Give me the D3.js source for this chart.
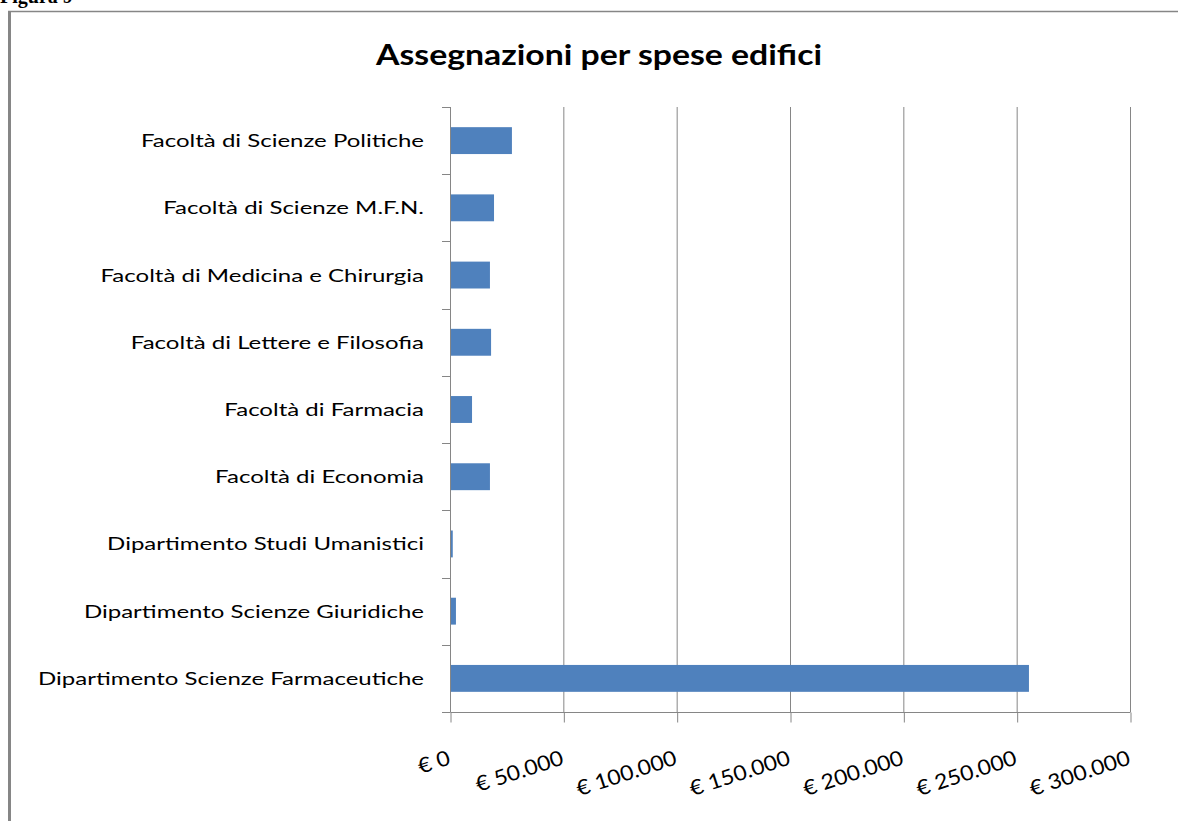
<!DOCTYPE html>
<html>
<head>
<meta charset="utf-8">
<script src="https://cdn.jsdelivr.net/npm/d3@7.9.0/dist/d3.min.js"></script>
<style>
    html, body { margin: 0; padding: 0; background: #fff; overflow: hidden; }
    svg { display: block; }
</style>
</head>
<body>
<svg id="chart" width="1178" height="821"></svg>
<script>
// Data (top to bottom)
const categories = [
    'Facoltà di Scienze Politiche',
    'Facoltà di Scienze M.F.N.',
    'Facoltà di Medicina e Chirurgia',
    'Facoltà di Lettere e Filosofia',
    'Facoltà di Farmacia',
    'Facoltà di Economia',
    'Dipartimento Studi Umanistici',
    'Dipartimento Scienze Giuridiche',
    'Dipartimento Scienze Farmaceutiche'
];
const values = [27100, 19200, 17400, 17900, 9500, 17400, 1000, 2400, 255200];
const tickValues = [0, 50000, 100000, 150000, 200000, 250000, 300000];
const chartTitle = 'Assegnazioni per spese edifici';
const figureLabel = 'Figura 9';

const grey = '#868686';
const barColor = '#4F81BD';

const svg = d3.select('#chart');

// Italian euro formatting: "€ 50.000"
const it = d3.formatLocale({ decimal: ',', thousands: '.', grouping: [3], currency: ['€ ', ''] });
const fmt = it.format('$,');

// Scales
const x = d3.scaleLinear().domain([0, 300000]).range([450.5, 1130.5]);
const y = d3.scaleBand().domain(categories).range([107, 712]).paddingInner(0.6).paddingOuter(0.3);
const step = y.step();

// Outer frame (left + top border of the embedded chart)
svg.append('line').attr('x1', 9.5).attr('x2', 9.5).attr('y1', 11).attr('y2', 821)
    .attr('stroke', grey).attr('stroke-width', 3);
svg.append('line').attr('x1', 8).attr('x2', 1178).attr('y1', 11.5).attr('y2', 11.5)
    .attr('stroke', grey).attr('stroke-width', 1.5);

// Caption above the frame, mostly clipped by the page top
svg.append('text').attr('x', 0).attr('y', 3)
    .attr('font-family', '"Liberation Serif", serif').attr('font-weight', 'bold')
    .attr('font-size', 20).text(figureLabel);

// Helper: squeeze/stretch text horizontally so a reference string hits a target width
function fitTexts(sel, refWidth, refNode) {
    const k = refWidth / refNode.getComputedTextLength();
    sel.each(function () {
        const w = this.getComputedTextLength();
        d3.select(this).attr('textLength', w * k).attr('lengthAdjust', 'spacingAndGlyphs');
    });
}

// Title
const title = svg.append('text')
    .attr('x', 599).attr('y', 65)
    .attr('text-anchor', 'middle')
    .attr('font-family', 'Lato, sans-serif').attr('font-weight', 'bold')
    .attr('font-size', 29).attr('fill', '#000')
    .text(chartTitle);
fitTexts(title, 446, title.node());

// Vertical gridlines
svg.append('g').selectAll('line')
    .data(tickValues.slice(1))
    .join('line')
    .attr('x1', d => x(d)).attr('x2', d => x(d))
    .attr('y1', 107).attr('y2', 712)
    .attr('stroke', grey).attr('stroke-width', 1);

// Bars
svg.append('g').selectAll('rect')
    .data(categories)
    .join('rect')
    .attr('x', x(0) - 0.5)
    .attr('y', d => y(d))
    .attr('width', (d, i) => x(values[i]) - x(0) + 0.5)
    .attr('height', y.bandwidth())
    .attr('fill', barColor);

// X axis: ticks going down, labels drawn separately (rotated)
const xAxis = svg.append('g')
    .attr('transform', 'translate(0,712.5)')
    .call(d3.axisBottom(x).tickValues(tickValues).tickSize(10).tickSizeOuter(0).tickFormat(''));
xAxis.select('.domain').attr('stroke', grey).attr('d', `M${x(0)},0H${x(300000)}`);
xAxis.selectAll('.tick line').attr('stroke', grey);

// Y axis line and category boundary ticks
svg.append('line').attr('x1', x(0)).attr('x2', x(0)).attr('y1', 107).attr('y2', 712)
    .attr('stroke', grey).attr('stroke-width', 1);
svg.append('g').selectAll('line')
    .data(d3.range(categories.length + 1))
    .join('line')
    .attr('x1', 442).attr('x2', x(0))
    .attr('y1', i => Math.round(107 + i * step) + 0.5)
    .attr('y2', i => Math.round(107 + i * step) + 0.5)
    .attr('stroke', grey).attr('stroke-width', 1);

// Category labels
const catLabels = svg.append('g').selectAll('text')
    .data(categories)
    .join('text')
    .attr('x', 424)
    .attr('y', d => y(d) + y.bandwidth() / 2 + 6.5)
    .attr('text-anchor', 'end')
    .attr('font-family', 'Lato, sans-serif')
    .attr('font-size', 18).attr('fill', '#000')
    .text(d => d);
fitTexts(catLabels, 386, catLabels.nodes()[categories.length - 1]);

// Rotated euro tick labels
const tickLabels = svg.append('g').selectAll('text')
    .data(tickValues)
    .join('text')
    .attr('text-anchor', 'end')
    .attr('transform', d => `translate(${x(d) + 1},764) rotate(-18)`)
    .attr('font-family', 'Lato, sans-serif')
    .attr('font-size', 21).attr('fill', '#000')
    .text(d => fmt(d));
fitTexts(tickLabels, 104, tickLabels.nodes()[tickValues.length - 1]);
</script>
</body>
</html>
